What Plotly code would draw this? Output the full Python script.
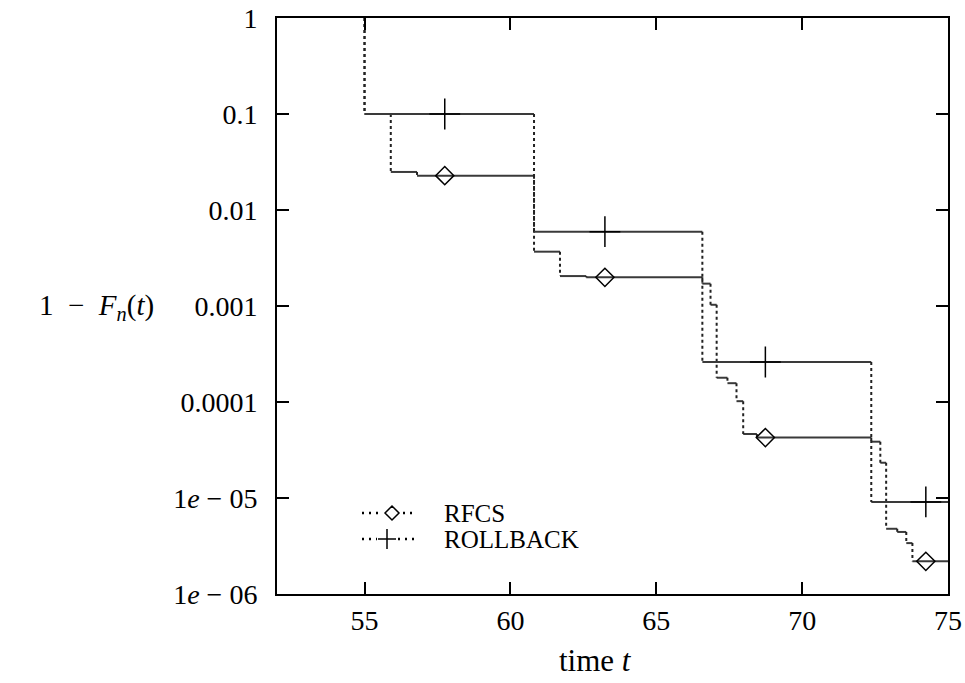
import plotly.graph_objects as go

# ---- data ----
t_end = 75.0
rfcs_t = [55.0, 55.0, 55.9, 56.8, 60.81, 61.7, 62.6, 66.58, 66.86, 67.07, 67.44,
          67.75, 67.98, 68.45, 72.37, 72.68, 72.88, 73.26, 73.57, 73.78]
rfcs_v = [1.0, 0.1, 0.0249, 0.0228, 0.00368, 0.00205, 0.00199, 0.00171, 0.00103,
          0.000179, 0.000157, 0.000102, 4.64e-5, 4.26e-5, 3.86e-5, 2.33e-5,
          4.78e-6, 4.43e-6, 3.39e-6, 2.19e-6]
rollback_t = [55.0, 55.0, 60.81, 66.58, 72.37]
rollback_v = [1.0, 0.1, 0.00594, 0.000261, 9.1e-6]
marker_t = [57.75, 63.24, 68.74, 74.24]

series_names = ["RFCS", "ROLLBACK"]

y_tickvals = [1e-6, 1e-5, 1e-4, 1e-3, 1e-2, 1e-1, 1]
y_ticktext = ["1<i>e</i> − 06", "1<i>e</i> − 05", "0.0001", "0.001", "0.01", "0.1", "1"]
x_tickvals = [55, 60, 65, 70, 75]

FONT = "Liberation Serif"
OFF = 0  # page body margin is removed by post_script
W, H = 965, 683
# target plot frame in screen pixels: x 277..948, y 18..594
L, T = 277 - OFF, 18 - OFF
R, B = W - (948 - OFF), H - (594 - OFF)
PW, PH = W - L - R, H - T - B


def px2paper(x, y):
    return (x - OFF - L) / PW, 1 - (y - OFF - T) / PH


def segments(Ts, Vs, end):
    hx, hy, vx, vy = [], [], [], []
    for i in range(len(Ts)):
        nxt = Ts[i + 1] if i + 1 < len(Ts) else end
        hx += [Ts[i], nxt, None]
        hy += [Vs[i], Vs[i], None]
        if i > 0:
            vx += [Ts[i], Ts[i], None]
            vy += [Vs[i - 1], Vs[i], None]
    return hx, hy, vx, vy


def step_value(Ts, Vs, t):
    val = Vs[0]
    for ti, vi in zip(Ts, Vs):
        if ti <= t:
            val = vi
    return val


fig = go.Figure()

series = [
    (rfcs_t, rfcs_v, "diamond-open", 14),
    (rollback_t, rollback_v, "cross-thin-open", 22),
]

for (Ts, Vs, sym, msize), name in zip(series, series_names):
    hx, hy, vx, vy = segments(Ts, Vs, t_end)
    fig.add_trace(go.Scatter(x=hx, y=hy, mode="lines", showlegend=False, name=name,
                             line=dict(color="#3a3a3a", width=2), hoverinfo="skip"))
    fig.add_trace(go.Scatter(x=vx, y=vy, mode="lines", showlegend=False, name=name,
                             line=dict(color="#222222", width=2, dash="dot"), hoverinfo="skip"))
    fig.add_trace(go.Scatter(x=marker_t, y=[step_value(Ts, Vs, t) for t in marker_t],
                             mode="markers", showlegend=False, name=name,
                             marker=dict(symbol=sym, size=msize, color="black",
                                         line=dict(color="black", width=1.5))))

annotations = [
    dict(text="1 &nbsp;− &nbsp;<i>F</i><sub><i>n</i></sub>(<i>t</i>)", xref="paper", yref="paper",
         x=px2paper(96, 0)[0], y=px2paper(0, 307)[1], xanchor="center", yanchor="middle",
         showarrow=False, font=dict(family=FONT, size=29)),
    dict(text="time <i>t</i>", xref="paper", yref="paper",
         x=px2paper(595, 0)[0], y=px2paper(0, 660)[1], xanchor="center", yanchor="middle",
         showarrow=False, font=dict(family=FONT, size=31)),
]

# hand-drawn key: "...<glyph>.." then the name
glyph_paths = {
    "RFCS": "M -7,0 L 0,7 L 7,0 L 0,-7 Z",
    "ROLLBACK": "M -9,0 L 9,0 M 0,-10 L 0,10",
}
key_glyph_x = {"RFCS": 392, "ROLLBACK": 387}
shapes = []
legend_rows = [513, 539]
dots = dict(color="black", width=2.5, dash="2px,5px")
for name, ry in zip(series_names, legend_rows):
    gx = key_glyph_x[name]
    _, yy = px2paper(0, ry)
    for a, b in [(362, gx - 10), (gx + 11, 416)]:
        shapes.append(dict(type="line", xref="paper", yref="paper",
                           x0=px2paper(a, 0)[0], x1=px2paper(b, 0)[0], y0=yy, y1=yy,
                           line=dots))
    shapes.append(dict(type="path", xref="paper", yref="paper",
                       xsizemode="pixel", ysizemode="pixel",
                       xanchor=px2paper(gx, 0)[0], yanchor=yy,
                       path=glyph_paths[name],
                       line=dict(color="black", width=1.5)))
    annotations.append(dict(text=name, xref="paper", yref="paper",
                            x=px2paper(442, 0)[0], y=yy, xanchor="left", yanchor="middle",
                            showarrow=False, font=dict(family=FONT, size=25, color="black")))

fig.update_layout(
    width=W, height=H,
    margin=dict(l=L, r=R, t=T, b=B),
    paper_bgcolor="white", plot_bgcolor="white",
    font=dict(family=FONT, size=28, color="black"),
    showlegend=False,
    xaxis=dict(range=[52, 75], tickvals=x_tickvals, ticks="inside", ticklen=12,
               tickwidth=2, tickcolor="black", showgrid=False, zeroline=False,
               showline=True, linecolor="black", linewidth=2, mirror="ticks",
               ticklabelstandoff=0, automargin=False, ticklabeloverflow="allow"),
    yaxis=dict(type="log", range=[-6, 0], tickvals=y_tickvals, ticktext=y_ticktext,
               ticks="inside", ticklen=12, tickwidth=2, tickcolor="black",
               showgrid=False, zeroline=False, showline=True, linecolor="black",
               linewidth=2, mirror="ticks", ticklabelstandoff=12, automargin=False,
               ticklabeloverflow="allow"),
    annotations=annotations,
    shapes=shapes,
)

fig.write_html("out.html", config={"displayModeBar": False},
               post_script="document.body.style.margin='0';")
